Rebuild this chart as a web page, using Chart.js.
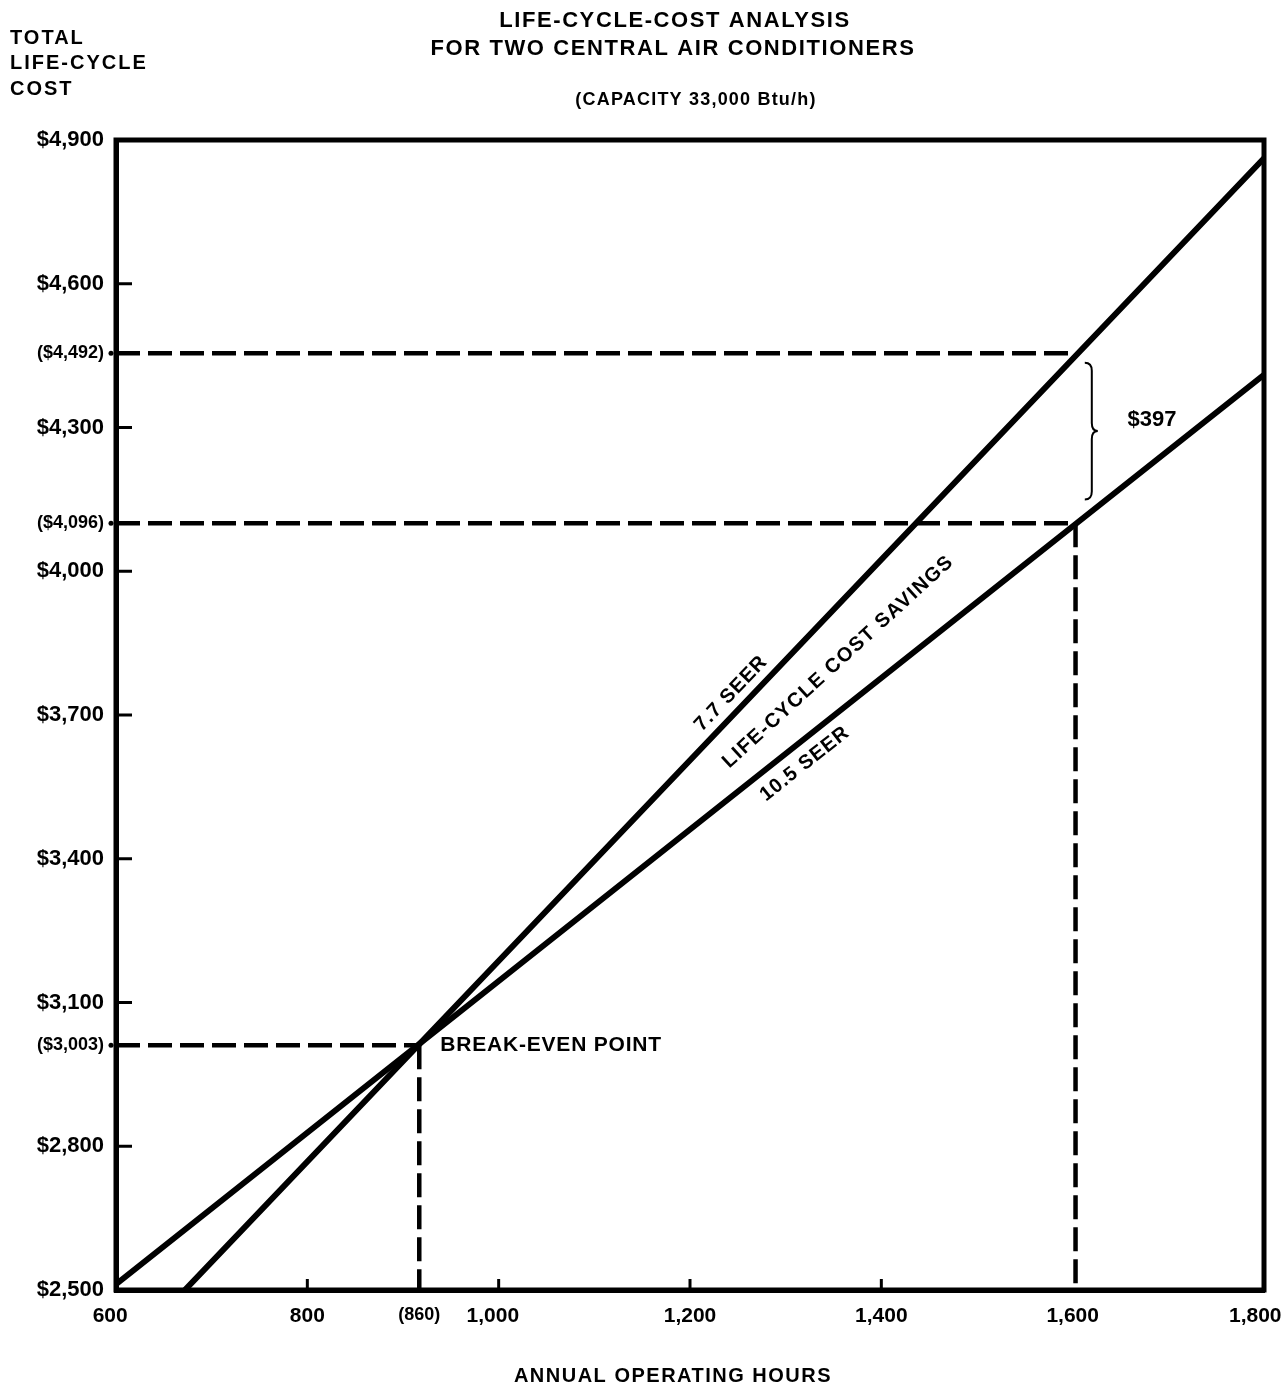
<!DOCTYPE html>
<html>
<head>
<meta charset="utf-8">
<script src="https://cdn.jsdelivr.net/npm/chart.js@4.4.1/dist/chart.umd.min.js"></script>
<style>
  html, body { margin: 0; padding: 0; background: #fff; }
  #wrap { width: 1287px; height: 1387px; }
</style>
</head>
<body>
<div id="wrap"><canvas id="chart" width="1287" height="1387"></canvas></div>
<script>
// Values. The drawing is schematic, so the
// dashed read-off lines sit where the drawn lines cross, not at the printed numbers.
const seer77Hours = [672, 1800];
const seer77Cost = [2500, 4862];
const seer105Hours = [600, 1800];
const seer105Cost = [2512, 4410];

const breakEvenHours = 917;   // printed as (860)
const breakEvenCost = 3011;   // printed as ($3,003)
const compareHours = 1603;
const compareCost77 = 4455;   // printed as ($4,492)
const compareCost105 = 4100;  // printed as ($4,096)

const xTickValues = [600, 800, breakEvenHours, 1000, 1200, 1400, 1600, 1800];
// trailing spaces nudge the edge labels left, as printed
const xTickLabels = ['600  ', '800', '(860)', '1,000  ', '1,200', '1,400', '1,600', '1,800   '];
const yTickValues = [2500, 2800, breakEvenCost, 3100, 3400, 3700, 4000, compareCost105, 4300, compareCost77, 4600, 4900];
const yTickLabels = ['$2,500', '$2,800', '($3,003)', '$3,100', '$3,400', '$3,700', '$4,000', '($4,096)', '$4,300', '($4,492)', '$4,600', '$4,900'];
const yMajor = [2800, 3100, 3400, 3700, 4000, 4300, 4600];
const xMajor = [800, 1000, 1200, 1400];

const braceHours = 1620;
const braceTop = 4435;
const braceBottom = 4150;
const savingsLabel = '$397';
const savingsPos = [1683, 4316];

const label77Pos = [1243, 3745];
const label105Pos = [1320, 3598];
const labelSavingsPos = [1355, 3811];

const FONT = '"Liberation Sans", Arial, Helvetica, sans-serif';
const font = (size) => `bold ${size}px ${FONT}`;

const pts = (xs, ys) => xs.map((v, i) => ({ x: v, y: ys[i] }));

function text(ctx, str, x, y, size, align, spacing) {
  ctx.font = font(size);
  ctx.letterSpacing = (spacing || 0) + 'px';
  ctx.textAlign = align || 'center';
  ctx.textBaseline = 'middle';
  ctx.fillText(str, x, y);
  ctx.letterSpacing = '0px';
}

function lineAngle(x, y, xs, ys) {
  const x1 = x.getPixelForValue(xs[0]), y1 = y.getPixelForValue(ys[0]);
  const x2 = x.getPixelForValue(xs[1]), y2 = y.getPixelForValue(ys[1]);
  return Math.atan2(y2 - y1, x2 - x1);
}

function rotated(ctx, str, px, py, angle, size, spacing) {
  ctx.save();
  ctx.translate(px, py);
  ctx.rotate(angle);
  text(ctx, str, 0, 0, size, 'center', spacing);
  ctx.restore();
}

const annotate = {
  id: 'annotate',
  afterDraw(chart) {
    const { ctx, chartArea: a, scales: { x, y } } = chart;
    ctx.save();
    ctx.strokeStyle = '#000';
    ctx.fillStyle = '#000';

    // heavy frame
    ctx.lineWidth = 5;
    ctx.strokeRect(a.left, a.top, a.right - a.left, a.bottom - a.top);

    // inward tick marks
    ctx.lineWidth = 3;
    yMajor.forEach(v => {
      const py = y.getPixelForValue(v);
      ctx.beginPath(); ctx.moveTo(a.left, py); ctx.lineTo(a.left + 16, py); ctx.stroke();
    });
    xMajor.forEach(v => {
      const px = x.getPixelForValue(v);
      ctx.beginPath(); ctx.moveTo(px, a.bottom); ctx.lineTo(px, a.bottom - 11); ctx.stroke();
    });
    [breakEvenCost, compareCost105, compareCost77].forEach(v => {
      const py = y.getPixelForValue(v);
      ctx.beginPath(); ctx.arc(a.left - 5, py, 2.5, 0, Math.PI * 2); ctx.fill();
    });

    // titles
    text(ctx, 'LIFE-CYCLE-COST ANALYSIS', 675, 21, 22, 'center', 1.6);
    text(ctx, 'FOR TWO CENTRAL AIR CONDITIONERS', 673, 49, 22, 'center', 1.6);
    text(ctx, '(CAPACITY 33,000 Btu/h)', 696, 100, 18, 'center', 1.2);
    text(ctx, 'TOTAL', 10, 38, 20, 'left', 2);
    text(ctx, 'LIFE-CYCLE', 10, 63, 20, 'left', 2);
    text(ctx, 'COST', 10, 89, 20, 'left', 2);
    text(ctx, 'ANNUAL OPERATING HOURS', 673, 1376, 20, 'center', 1.5);

    // break-even and savings notes
    text(ctx, 'BREAK-EVEN POINT', x.getPixelForValue(breakEvenHours) + 21,
      y.getPixelForValue(breakEvenCost), 21, 'left', 0.8);
    text(ctx, savingsLabel, x.getPixelForValue(savingsPos[0]), y.getPixelForValue(savingsPos[1]), 22, 'center', 0);

    // brace "}"
    const bx = x.getPixelForValue(braceHours);
    const bt = y.getPixelForValue(braceTop);
    const bb = y.getPixelForValue(braceBottom);
    const bm = (bt + bb) / 2;
    ctx.lineWidth = 2;
    ctx.beginPath();
    ctx.moveTo(bx - 7, bt);
    ctx.quadraticCurveTo(bx, bt, bx, bt + 8);
    ctx.lineTo(bx, bm - 8);
    ctx.quadraticCurveTo(bx, bm, bx + 6, bm);
    ctx.quadraticCurveTo(bx, bm, bx, bm + 8);
    ctx.lineTo(bx, bb - 8);
    ctx.quadraticCurveTo(bx, bb, bx - 7, bb);
    ctx.stroke();

    // labels along the lines
    const ang77 = lineAngle(x, y, seer77Hours, seer77Cost);
    const ang105 = lineAngle(x, y, seer105Hours, seer105Cost);
    rotated(ctx, '7.7 SEER', x.getPixelForValue(label77Pos[0]), y.getPixelForValue(label77Pos[1]), ang77, 20, 1);
    rotated(ctx, '10.5 SEER', x.getPixelForValue(label105Pos[0]), y.getPixelForValue(label105Pos[1]), ang105, 20, 1);
    rotated(ctx, 'LIFE-CYCLE COST SAVINGS', x.getPixelForValue(labelSavingsPos[0]), y.getPixelForValue(labelSavingsPos[1]),
      (ang77 + ang105) / 2, 20, 1.4);

    ctx.restore();
  }
};

const dashed = { borderColor: '#000', borderWidth: 4.5, borderDash: [24, 8], pointRadius: 0, fill: false, borderCapStyle: 'butt' };
const solid = { borderColor: '#000', borderWidth: 6, pointRadius: 0, fill: false, borderCapStyle: 'round' };

new Chart(document.getElementById('chart'), {
  type: 'line',
  data: {
    datasets: [
      { ...dashed, label: 'read-off 4,492', data: pts([600, compareHours], [compareCost77, compareCost77]) },
      { ...dashed, label: 'read-off 4,096', data: pts([600, compareHours], [compareCost105, compareCost105]) },
      { ...dashed, label: 'read-off 1,600', data: pts([compareHours, compareHours], [compareCost105, 2500]) },
      { ...dashed, label: 'break-even cost', data: pts([600, breakEvenHours], [breakEvenCost, breakEvenCost]) },
      { ...dashed, label: 'break-even hours', data: pts([breakEvenHours, breakEvenHours], [breakEvenCost, 2500]) },
      { ...solid, label: '7.7 SEER', data: pts(seer77Hours, seer77Cost) },
      { ...solid, label: '10.5 SEER', data: pts(seer105Hours, seer105Cost) }
    ]
  },
  options: {
    responsive: false,
    animation: false,
    devicePixelRatio: 1,
    layout: { padding: { left: 0, right: 23, top: 140, bottom: 37 } },
    plugins: { legend: { display: false }, tooltip: { enabled: false } },
    scales: {
      x: {
        type: 'linear',
        min: 600,
        max: 1800,
        afterBuildTicks: (s) => { s.ticks = xTickValues.map(v => ({ value: v })); },
        afterFit: (s) => { s.height = 60; s.paddingLeft = 0; s.paddingRight = 0; },
        grid: { display: false, drawTicks: false },
        border: { display: true, color: '#000', width: 5 },
        ticks: {
          autoSkip: false,
          maxRotation: 0,
          padding: 14,
          color: '#000',
          font: (c) => ({ family: FONT, weight: 'bold', size: c.tick && c.tick.value === breakEvenHours ? 18 : 21 }),
          callback: (v) => xTickLabels[xTickValues.indexOf(v)]
        }
      },
      y: {
        type: 'linear',
        min: 2500,
        max: 4900,
        afterBuildTicks: (s) => { s.ticks = yTickValues.map(v => ({ value: v })); },
        afterFit: (s) => { s.width = 116; s.paddingTop = 0; s.paddingBottom = 0; },
        grid: { display: false, drawTicks: false },
        border: { display: true, color: '#000', width: 5 },
        ticks: {
          autoSkip: false,
          padding: 12,
          color: '#000',
          font: (c) => {
            const paren = c.tick && [breakEvenCost, compareCost105, compareCost77].includes(c.tick.value);
            return { family: FONT, weight: 'bold', size: paren ? 18 : 22 };
          },
          callback: (v) => yTickLabels[yTickValues.indexOf(v)]
        }
      }
    }
  },
  plugins: [annotate]
});
</script>
</body>
</html>
